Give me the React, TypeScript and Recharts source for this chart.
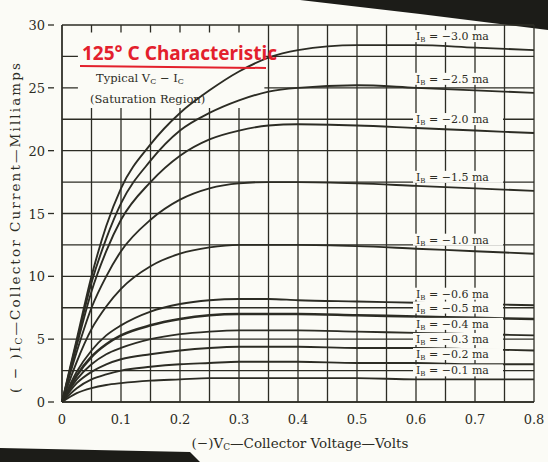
import React from 'react';
import { LineChart, Line, XAxis, YAxis, CartesianGrid, ReferenceArea } from 'recharts';

// Collector voltage (-V, volts)
const volts = [0, 0.025, 0.05, 0.075, 0.1, 0.15, 0.2, 0.25, 0.3, 0.35, 0.4, 0.5, 0.6, 0.7, 0.8];

// Collector current (-mA) for each base current
const ib01 = [0, 0.7, 1.1, 1.35, 1.5, 1.7, 1.8, 1.9, 1.9, 1.9, 1.9, 1.9, 1.8, 1.8, 1.8];
const ib02 = [0, 1.1, 1.8, 2.2, 2.5, 2.8, 3.0, 3.1, 3.2, 3.2, 3.2, 3.1, 3.1, 3.0, 3.0];
const ib03 = [0, 1.5, 2.4, 3.0, 3.4, 3.8, 4.1, 4.3, 4.4, 4.4, 4.4, 4.3, 4.3, 4.2, 4.1];
const ib04 = [0, 1.8, 3.0, 3.8, 4.3, 5.0, 5.4, 5.6, 5.7, 5.7, 5.7, 5.6, 5.5, 5.4, 5.3];
const ib05 = [0, 2.1, 3.6, 4.6, 5.3, 6.1, 6.6, 6.9, 7.0, 7.0, 7.0, 6.9, 6.8, 6.7, 6.6];
const ib06 = [0, 2.4, 4.1, 5.3, 6.1, 7.2, 7.8, 8.1, 8.2, 8.2, 8.1, 8.0, 7.9, 7.8, 7.7];
const ib10 = [0, 3.2, 5.8, 7.6, 9.0, 10.8, 11.8, 12.3, 12.5, 12.5, 12.5, 12.4, 12.2, 12.0, 11.8];
const ib15 = [0, 4.0, 7.5, 10.0, 12.0, 14.5, 16.1, 17.0, 17.4, 17.5, 17.5, 17.4, 17.2, 17.0, 16.8];
const ib20 = [0, 4.5, 8.8, 12.0, 14.5, 17.5, 19.6, 20.9, 21.6, 22.0, 22.1, 22.0, 21.8, 21.6, 21.4];
const ib25 = [0, 4.8, 9.5, 13.0, 15.8, 19.2, 21.6, 23.0, 24.0, 24.7, 25.0, 25.2, 25.0, 24.8, 24.6];
const ib30 = [0, 5.0, 10.0, 14.0, 17.0, 20.5, 23.0, 24.8, 26.3, 27.4, 28.0, 28.4, 28.4, 28.2, 28.0];

const seriesValues = [ib01, ib02, ib03, ib04, ib05, ib06, ib10, ib15, ib20, ib25, ib30];
const seriesLabels = ['−0.1', '−0.2', '−0.3', '−0.4', '−0.5', '−0.6', '−1.0', '−1.5', '−2.0', '−2.5', '−3.0'];

const xTicks = [0, 0.05, 0.1, 0.15, 0.2, 0.25, 0.3, 0.35, 0.4, 0.45, 0.5, 0.55, 0.6, 0.65, 0.7, 0.75, 0.8];
const xTickLabels: Record<string, string> = { '0': '0', '0.1': '0.1', '0.2': '0.2', '0.3': '0.3', '0.4': '0.4', '0.5': '0.5', '0.6': '0.6', '0.7': '0.7', '0.8': '0.8' };
const yTicks = [0, 2.5, 5, 7.5, 10, 12.5, 15, 17.5, 20, 22.5, 25, 27.5, 30];
const yTickLabels: Record<string, string> = { '0': '0', '5': '5', '10': '10', '15': '15', '20': '20', '25': '25', '30': '30' };

const LABEL_VOLT = 0.6;

const data = volts.map((v, i) => {
  const row: Record<string, number> = { v };
  seriesValues.forEach((s, k) => { row['s' + k] = s[i]; });
  return row;
});

const PAPER = '#fbfbf6';
const INK = '#2c2c24';
const SERIF = '"DejaVu Serif", "Liberation Serif", serif';

const makeLabel = (text: string) => (props: any) => {
  const { x, y, index } = props;
  if (volts[index] !== LABEL_VOLT) return null;
  return (
    <g>
      <rect x={x - 3} y={y - 15} width={90} height={12} fill={PAPER} />
      <text x={x} y={y - 5} fontFamily={SERIF} fontSize={11} fill={INK}>
        I<tspan fontSize={7} dy={2}>B</tspan>
        <tspan dy={-2}>{'  =  ' + text + ' ma'}</tspan>
      </text>
    </g>
  );
};

const XTick = (props: any) => {
  const { x, y, payload } = props;
  const lab = xTickLabels[String(payload.value)];
  if (!lab) return null;
  return (
    <text x={x} y={y + 14} textAnchor="middle" fontFamily={SERIF} fontSize={13} fill={INK}>{lab}</text>
  );
};

const YTick = (props: any) => {
  const { x, y, payload } = props;
  const lab = yTickLabels[String(payload.value)];
  if (!lab) return null;
  return (
    <g>
      <line x1={x - 6} x2={x} y1={y} y2={y} stroke={INK} strokeWidth={1.3} />
      <text x={x - 9} y={y + 5} textAnchor="end" fontFamily={SERIF} fontSize={13} fill={INK}>{lab}</text>
    </g>
  );
};

export default function App() {
  return (
    <div style={{ position: 'absolute', left: 0, top: 0, width: 548, height: 462, background: PAPER, overflow: 'hidden' }}>
      <svg width={548} height={462} style={{ position: 'absolute', left: 0, top: 0 }}>
        <polygon points="300,0 548,0 548,30 420,14" fill="#1c1c18" />
        <polygon points="0,448 190,452 200,462 0,462" fill="#1c1c18" />
      </svg>
      <div style={{ position: 'absolute', left: 0, top: 0 }}>
        <LineChart width={548} height={462} data={data} margin={{ top: 25, right: 14, bottom: 30, left: 22 }}>
          <CartesianGrid stroke={INK} strokeWidth={1.3} horizontalValues={yTicks} verticalValues={xTicks} />
          <ReferenceArea x1={0.027} x2={0.343} y1={23.4} y2={29.4} fill={PAPER} fillOpacity={1} stroke="none" />
          <XAxis type="number" dataKey="v" domain={[0, 0.8]} ticks={xTicks} tick={<XTick />} tickLine={false} axisLine={{ stroke: INK, strokeWidth: 1.3 }} height={30} interval={0} />
          <YAxis type="number" domain={[0, 30]} ticks={yTicks} tick={<YTick />} tickLine={false} axisLine={{ stroke: INK, strokeWidth: 1.3 }} width={40} interval={0} />
          {seriesValues.map((_, k) => (
            <Line
              key={k}
              type="monotone"
              dataKey={'s' + k}
              stroke={INK}
              strokeWidth={k === 4 ? 2.6 : 1.9}
              dot={false}
              isAnimationActive={false}
              label={makeLabel(seriesLabels[k])}
            />
          ))}
        </LineChart>
      </div>
      <svg width={548} height={462} style={{ position: 'absolute', left: 0, top: 0, pointerEvents: 'none' }}>
        <text x={82} y={60} fontFamily='"Noto Sans", "DejaVu Sans", sans-serif' fontWeight={700} fontSize={19} fill="#e3202c">125° C Characteristic</text>
        <line x1={80} y1={66} x2={266} y2={68} stroke="#e3202c" strokeWidth={2} />
        <text x={96} y={82} fontFamily={SERIF} fontSize={11.5} fill={INK}>
          Typical V<tspan fontSize={8} dy={2}>C</tspan><tspan dy={-2}> − I</tspan><tspan fontSize={8} dy={2}>C</tspan>
        </text>
        <text x={90} y={103} fontFamily={SERIF} fontSize={11.5} fill={INK}>(Saturation Region)</text>
        <text x={300} y={448} textAnchor="middle" fontFamily={SERIF} fontSize={13.5} fill={INK}>
          (−)V<tspan fontSize={9} dy={2}>C</tspan><tspan dy={-2}>—Collector Voltage—Volts</tspan>
        </text>
        <text transform="translate(20,228) rotate(-90)" textAnchor="middle" fontFamily={SERIF} fontSize={13.5} fill={INK} textLength={330} lengthAdjust="spacing">
          ( − )I<tspan fontSize={9} dy={2}>C</tspan><tspan dy={-2}>—Collector Current—Milliamps</tspan>
        </text>
      </svg>
    </div>
  );
}
